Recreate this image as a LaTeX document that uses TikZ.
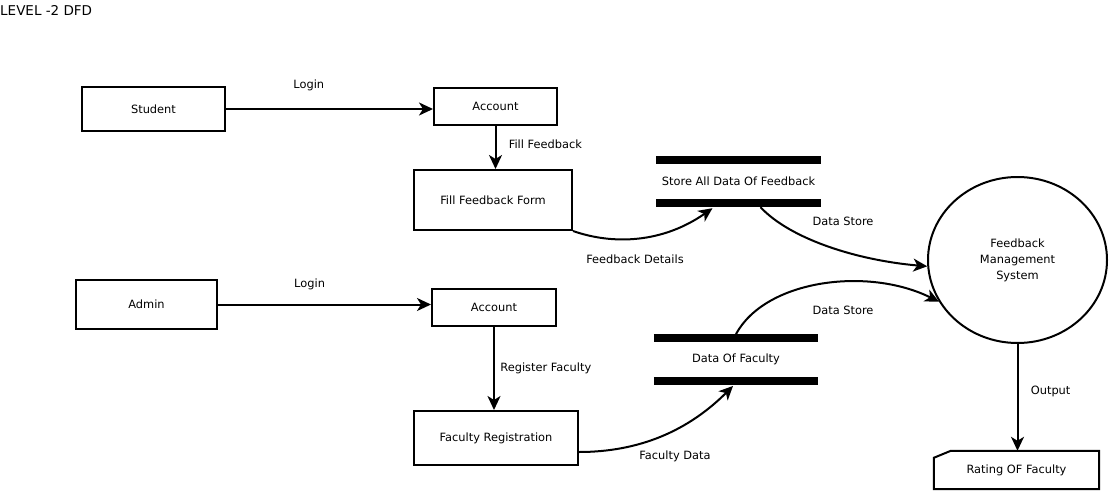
\documentclass[tikz,border=0pt]{standalone}
\usepackage{fontspec}
\setmainfont{DejaVu Sans}
\usetikzlibrary{arrows.meta,positioning,shapes.geometric}

\begin{document}
\begin{tikzpicture}[x=1pt, y=-1pt,
    font=\fontsize{11.4}{13}\selectfont,
    proc/.style={draw, line width=2pt, inner sep=0pt},
    store/.style={inner sep=0pt, minimum width=164pt},
    bar/.style={line width=7.5pt},
    flow/.style={-{Stealth[length=14pt,width=13pt,inset=4pt]}, line width=2pt}]
    \useasboundingbox (0,0) rectangle (1112,493);
    \node[anchor=west, inner sep=0pt, font=\fontsize{13.5}{15}\selectfont] (title) at (0,10) {LEVEL -2 DFD};
    % student side
    \node[proc, minimum width=143pt, minimum height=44pt] (stu) at (153.5,109) {Student};
    \node[proc, minimum width=123pt, minimum height=37pt] (acc1) at (495.5,106.5) {Account};
    \node[proc, minimum width=158pt, minimum height=60pt] (ffform) at (493,200) {Fill Feedback Form};
    \node[store, minimum height=43pt] (fbstore) at (738.5,181.5) {Store All Data Of Feedback};
    % admin side
    \node[proc, minimum width=141pt, minimum height=49pt] (adm) at (146.5,304.5) {Admin};
    \node[proc, minimum width=124pt, minimum height=37pt] (acc2) at (494,307.5) {Account};
    \node[proc, minimum width=164pt, minimum height=54pt] (freg) at (496,438) {Faculty Registration};
    \node[store, minimum height=42.5pt] (facstore) at (736,359.5) {Data Of Faculty};
    % system and output
    \node[proc, ellipse, minimum width=179pt, minimum height=166pt, align=center,
          font=\fontsize{11.4}{16}\selectfont] (fms) at (1017.5,260) {Feedback\\Management\\System};
    \node[inner sep=0pt, minimum width=165pt, minimum height=38pt] (rating) at (1016.5,470) {Rating OF Faculty};
    \draw[line width=2pt] ([yshift=-7pt]rating.north west) -- ([xshift=17pt]rating.north west)
        -- (rating.north east) -- (rating.south east) -- (rating.south west) -- cycle;

    \draw[bar] (fbstore.north west) -- (fbstore.north east);
    \draw[bar] (fbstore.south west) -- (fbstore.south east);
    \draw[bar] (facstore.north west) -- (facstore.north east);
    \draw[bar] (facstore.south west) -- (facstore.south east);

    \draw[flow] (stu.east) -- (stu.east -| acc1.west) node[pos=0.4, yshift=24pt] (l1) {Login};
    \draw[flow] (acc1.south) -- (acc1.south |- ffform.north) node[midway, anchor=west, xshift=9pt, yshift=3pt] (l2) {Fill Feedback};
    \draw[flow] (adm.east) -- (adm.east -| acc2.west) node[pos=0.43, yshift=20pt] (l3) {Login};
    \draw[flow] (acc2.south) -- (acc2.south |- freg.north) node[midway, anchor=west, xshift=2pt] (l4) {Register Faculty};
    \draw[flow] (fms.south) -- (fms.south |- rating.north) node[midway, anchor=west, xshift=9pt, yshift=6pt] (l5) {Output};

    \draw[flow] (ffform.south east) .. controls +(40,14) and +(-50,35) .. ([xshift=-26pt,yshift=-5pt]fbstore.south);
    \draw[flow] ([xshift=22pt,yshift=-4pt]fbstore.south) .. controls +(30,32) and +(-70,-6) .. (fms.184);
    \draw[flow] ([yshift=-14pt]freg.east) .. controls +(60,0) and +(-45,45) .. ([xshift=-3pt,yshift=-5pt]facstore.south);
    \draw[flow] ([yshift=4pt]facstore.north) .. controls +(30,-55) and +(-70,-35) .. (fms.208);
    \node (l6) at (635,259) {Feedback Details};
    \node (l7) at (843,221) {Data Store};
    \node (l8) at (675,456) {Faculty Data};
    \node (l9) at (843,310) {Data Store};
\end{tikzpicture}
\end{document}
